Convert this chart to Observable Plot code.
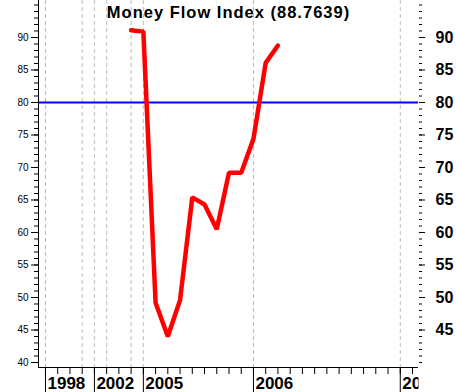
<!DOCTYPE html>
<html><head><meta charset="utf-8">
<script src="https://cdn.jsdelivr.net/npm/d3@7"></script>
<script src="https://cdn.jsdelivr.net/npm/@observablehq/plot@0.6"></script>
<style>body{margin:0;background:#fff} svg{display:block}</style>
</head><body><div id="chart"></div>
<script>
// Data
const periodIndex = [7, 8, 9, 10, 11, 12, 13, 14, 15, 16, 17, 18, 19];
const mfiValues = [91.1, 90.9, 49.2, 44.0, 49.6, 65.4, 64.3, 60.5, 69.2, 69.2, 74.4, 86.1, 88.76];
const overbought = [80];
const yearLabels = ["1998", "2002", "2005", "2006", "2007"];
const yearTickIndex = [0, 4, 8, 17, 29];
const gridIndex = [0, 3, 4, 5, 7, 8, 17, 29];
const minorXTicks = [0,1,2,3,4,5,6,7,8,9,10,11,12,13,14,15,16,17,18,19,20,21,22,23,24,25,26,27,28,29,30];
const leftTickLabels = [40, 45, 50, 55, 60, 65, 70, 75, 80, 85, 90];
const rightTickLabels = [45, 50, 55, 60, 65, 70, 75, 80, 85, 90];
const minorYTicks = d3.range(40, 96);
const title = "Money Flow Index (88.7639)";
const xDomain = [-0.57, 30.49];
const yDomain = [39.23, 95.69];

const data = periodIndex.map((p, i) => ({p, v: mfiValues[i]}));

const chart = Plot.plot({
  width: 456,
  height: 392,
  marginLeft: 38,
  marginRight: 38,
  marginTop: 0,
  marginBottom: 25,
  style: {fontFamily: "'Liberation Sans', Arial, sans-serif", background: "#fff", color: "#000", overflow: "visible"},
  x: {type: "linear", domain: xDomain, label: null},
  y: {type: "linear", domain: yDomain, label: null},
  marks: [
    Plot.ruleX(gridIndex, {stroke: "#bdbdbd", strokeWidth: 1, strokeDasharray: "4,3"}),
    Plot.ruleY(overbought, {stroke: "#0000ff", strokeWidth: 2}),
    Plot.line(data, {x: "p", y: "v", stroke: "#ff0000", strokeWidth: 4.5, strokeLinejoin: "miter"}),
    Plot.ruleX([xDomain[0]], {stroke: "#000"}),
    Plot.ruleY([yDomain[0]], {stroke: "#000"}),
    Plot.axisY(minorYTicks, {anchor: "left", tickSize: 4, tickFormat: () => "", label: null}),
    Plot.axisY(leftTickLabels, {anchor: "left", tickSize: 7, tickPadding: 3, fontSize: 10, label: null}),
    Plot.axisY(minorYTicks, {anchor: "right", tickSize: 3, tickFormat: () => "", label: null}),
    Plot.axisY(rightTickLabels, {anchor: "right", tickSize: 6, tickPadding: 11, fontSize: 16, fontWeight: "bold", label: null}),
    Plot.axisX(minorXTicks, {anchor: "bottom", tickSize: 7, tickFormat: () => "", label: null}),
    Plot.axisX(yearTickIndex, {anchor: "bottom", tickSize: 25, tickFormat: () => "", label: null}),
    Plot.axisX(yearTickIndex, {anchor: "bottom", tickSize: 0, tickPadding: 9, textAnchor: "start", dx: 2,
      fontSize: 17, fontWeight: "bold", label: null,
      tickFormat: d => yearLabels[yearTickIndex.indexOf(d)]}),
    Plot.text([title], {frameAnchor: "top", lineAnchor: "top", dy: 6, fontSize: 16.5, fontWeight: "bold", fill: "#000", className: "chart-title"})
  ]
});

const svg = d3.select(chart);
// wider title letter spacing, as in the reference
svg.selectAll(".chart-title text").style("letter-spacing", "1px");
// clip the year labels at the right edge of the plot frame (as in the reference)
const defs = svg.insert("defs", ":first-child");
defs.append("clipPath").attr("id", "yearclip").append("rect")
  .attr("x", -10).attr("y", -10).attr("width", 456 - 38 - 2 + 10).attr("height", 420);
svg.selectAll("g[aria-label='x-axis tick label']").attr("clip-path", "url(#yearclip)");

document.getElementById("chart").appendChild(chart);
</script>
</body></html>
